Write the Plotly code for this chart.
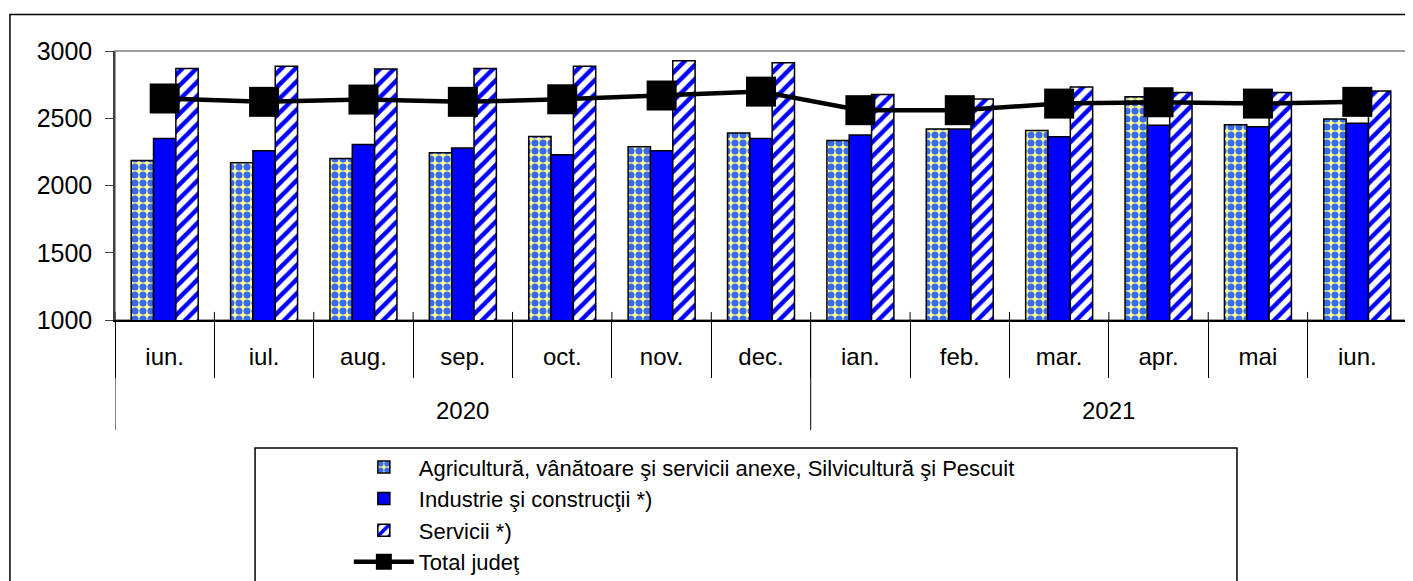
import plotly.graph_objects as go

years = ["2020", "2021"]
year_counts = [7, 6]
months = ["iun.", "iul.", "aug.", "sep.", "oct.", "nov.", "dec.",
          "ian.", "feb.", "mar.", "apr.", "mai", "iun."]

agri = [2186, 2169, 2201, 2243, 2364, 2288, 2391, 2335, 2421, 2409, 2659, 2451, 2495]
industrie = [2350, 2258, 2305, 2278, 2228, 2258, 2350, 2376, 2421, 2362, 2448, 2436, 2463]
servicii = [2869, 2886, 2866, 2869, 2886, 2928, 2913, 2676, 2644, 2733, 2691, 2691, 2703]
total = [2647, 2622, 2639, 2622, 2641, 2669, 2698, 2560, 2560, 2609, 2619, 2609, 2622]

names = ["Agricultură, vânătoare şi servicii anexe, Silvicultură şi Pescuit",
         "Industrie şi construcţii *)",
         "Servicii *)",
         "Total judeţ"]

FONT = "Liberation Sans, Arial, sans-serif"
xpos = list(range(len(months)))

fig = go.Figure()
fig.add_trace(go.Bar(
    x=xpos, y=agri, name=names[0],
    marker=dict(color="#FFFF99",
                line=dict(color="black", width=1.5),
                pattern=dict(shape=".", fgcolor="#3A6AF2", bgcolor="#FFFF8C",
                             size=8, solidity=0.62, fillmode="replace", fgopacity=1)),
))
fig.add_trace(go.Bar(
    x=xpos, y=industrie, name=names[1],
    marker=dict(color="#0000FF", line=dict(color="black", width=1.5)),
))
fig.add_trace(go.Bar(
    x=xpos, y=servicii, name=names[2],
    marker=dict(color="white",
                line=dict(color="black", width=1.5),
                pattern=dict(shape="/", fgcolor="#0000FF", bgcolor="white",
                             size=10, solidity=0.45, fillmode="replace", fgopacity=1)),
))
fig.add_trace(go.Scatter(
    x=xpos, y=total, name=names[3], mode="lines+markers",
    line=dict(color="black", width=4.5),
    marker=dict(symbol="square", size=30, color="black"),
))

# year group boundaries and centres (in category units)
bounds = [-0.5]
for c in year_counts:
    bounds.append(bounds[-1] + c)
centres = [(bounds[i] + bounds[i + 1]) / 2 for i in range(len(years))]

shapes = [
    dict(type="rect", xref="paper", yref="paper", x0=0, x1=1, y0=0, y1=1,
         line=dict(color="#808080", width=1.5), layer="below"),
    dict(type="rect", xref="paper", yref="paper", x0=-0.0813, x1=1.2, y0=-1.5, y1=1.1357,
         line=dict(color="black", width=1.5), layer="below"),
    dict(type="rect", xref="paper", yref="paper", x0=0.1084, x1=0.8684, y0=-1.5, y1=-0.4758,
         line=dict(color="black", width=1.5), layer="below"),
]
for b in bounds:
    shapes.append(dict(type="line", xref="x", yref="paper", x0=b, x1=b, y0=0, y1=-0.409,
                       line=dict(color="black", width=1)))
for b in [i + 0.5 for i in range(-1, len(months))]:
    shapes.append(dict(type="line", xref="x", yref="paper", x0=b, x1=b, y0=0, y1=0.03,
                       line=dict(color="black", width=1)))

annotations = [
    dict(x=c, y=-0.3346, xref="x", yref="paper", text=t, showarrow=False,
         xanchor="center", yanchor="middle",
         font=dict(family=FONT, size=24, color="black"))
    for c, t in zip(centres, years)
]

# the page body adds an 8px offset, so the figure is 8px smaller each way
fig.update_layout(
    width=1405, height=573,
    margin=dict(l=107, r=6, t=43, b=261, autoexpand=False),
    paper_bgcolor="white", plot_bgcolor="white",
    barmode="group", bargap=0.326, bargroupgap=0,
    font=dict(family=FONT, color="black", size=24),
    showlegend=True,
    legend=dict(x=0.181, y=-0.469, xanchor="left", yanchor="top",
                font=dict(family=FONT, size=22, color="black"),
                itemwidth=60, tracegroupgap=0, bgcolor="rgba(0,0,0,0)",
                traceorder="normal"),
    xaxis=dict(range=[-0.5, len(months) - 0.5], tickmode="array", tickvals=xpos,
               ticktext=months, showline=True, linecolor="black", linewidth=1.5,
               ticks="outside", ticklen=14, tickcolor="rgba(0,0,0,0)",
               minor=dict(ticks="outside", ticklen=56, tickcolor="black", tickwidth=1,
                          tick0=0.5, dtick=1, showgrid=False),
               tickfont=dict(family=FONT, size=24, color="black"),
               showgrid=False, zeroline=False),
    yaxis=dict(range=[1000, 3000], dtick=500, tick0=1000, ticks="outside", ticklen=8,
               tickcolor="#404040", showline=True, linecolor="#404040", linewidth=1.5,
               showgrid=False, zeroline=False, ticklabelstandoff=8,
               tickfont=dict(family=FONT, size=25, color="black")),
    shapes=shapes,
    annotations=annotations,
)

fig.write_html("out.html")
